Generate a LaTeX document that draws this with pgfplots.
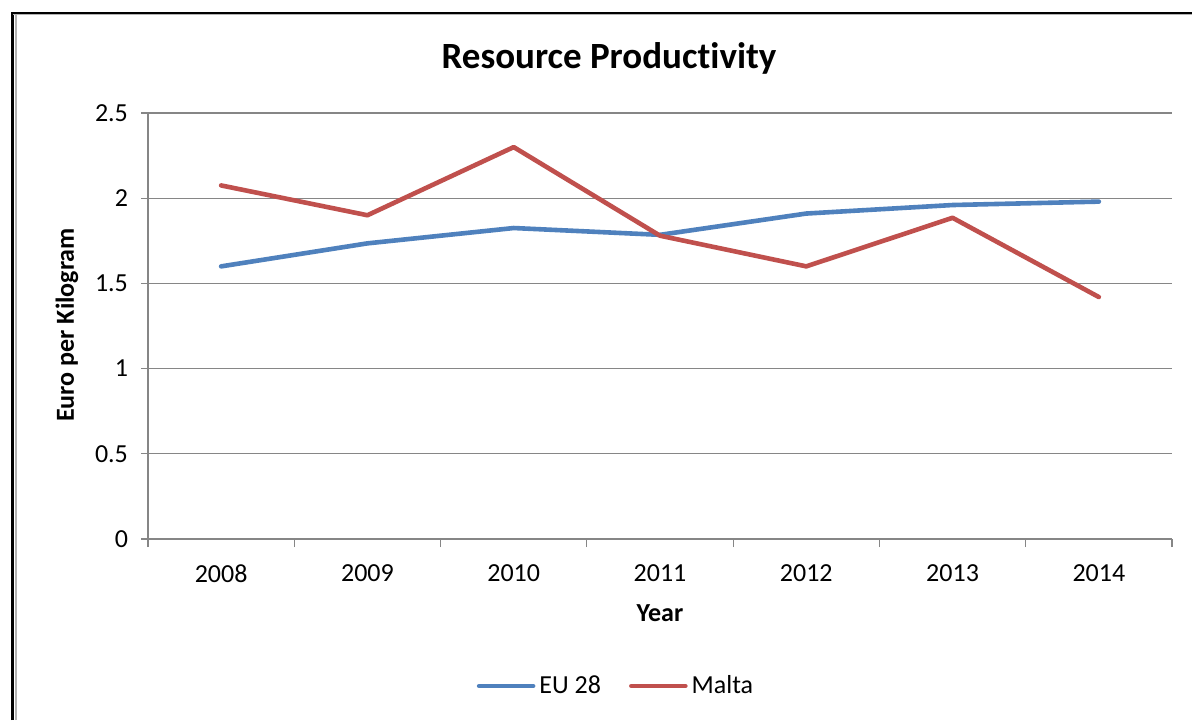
\documentclass[border=0pt]{standalone}
\usepackage{pgfplots}
\pgfplotsset{compat=1.18}
\usepackage{fontspec}
\setmainfont{Carlito}[Ligatures={NoCommon}]
\definecolor{eublue}{HTML}{4F81BD}
\definecolor{maltared}{HTML}{C0504D}
\definecolor{gridgray}{HTML}{868686}
\begin{document}
\begin{tikzpicture}[x=0.5pt,y=0.5pt]
\useasboundingbox (0,0) rectangle (1192,720);
\fill[white] (0,0) rectangle (1192,720);
\draw[black,line width=1.1pt] (12.5,0) -- (12.5,707) -- (1192,707);
\draw[gray!60,line width=0.6pt] (16,0) -- (16,705.5);
\draw[gray!60,line width=0.6pt] (13,705.3) -- (1192,705.3);
\begin{axis}[
  at={(74pt,90.5pt)}, anchor=south west, scale only axis,
  width=512pt, height=213pt,
  xmin=-0.5, xmax=6.5, ymin=0, ymax=2.5,
  ytick={0,0.5,1,1.5,2,2.5},
  xtick={0,1,2,3,4,5,6},
  xticklabels={2008,2009,2010,2011,2012,2013,2014},
  minor xtick={-0.5,0.5,1.5,2.5,3.5,4.5,5.5,6.5},
  major x tick style={draw=none},
  minor x tick style={gridgray,line width=0.6pt},
  major y tick style={gridgray,line width=0.6pt},
  minor tick length=4pt, major tick length=3.5pt,
  tick align=outside,
  ymajorgrids,
  grid style={gridgray,line width=0.6pt},
  axis x line*=bottom, axis y line*=left,
  axis line style={gridgray,line width=0.6pt},
  ticklabel style={font=\fontsize{13}{15}\selectfont, text=black},
  /pgf/number format/assume math mode=true,
  yticklabel style={xshift=-3pt},
  xticklabel style={yshift=-6pt},
  legend columns=2,
  legend style={at={(0.458,-0.345)}, anchor=center, draw=none, fill=none,
    font=\fontsize{13}{15}\selectfont,
    /tikz/every even column/.append style={column sep=12pt}},
  legend image code/.code={\draw[#1] (0pt,0pt) -- (27pt,0pt);},
]
\addplot[eublue, line width=2.3pt, line cap=round, line join=round] coordinates {
(0,1.60) (1,1.735) (2,1.825) (3,1.785) (4,1.91) (5,1.96) (6,1.98)};
\addlegendentry{EU 28}
\addplot[maltared, line width=2.3pt, line cap=round, line join=round] coordinates {
(0,2.075) (1,1.90) (2,2.30) (3,1.78) (4,1.60) (5,1.885) (6,1.42)};
\addlegendentry{Malta}
\end{axis}
\node[font=\bfseries\fontsize{18.5}{22}\selectfont] at (609,662) {Resource Productivity};
\node[font=\bfseries\fontsize{13}{15}\selectfont, rotate=90] at (67,395) {Euro per Kilogram};
\node[font=\bfseries\fontsize{13}{15}\selectfont] at (660,107) {Year};
\end{tikzpicture}
\end{document}
